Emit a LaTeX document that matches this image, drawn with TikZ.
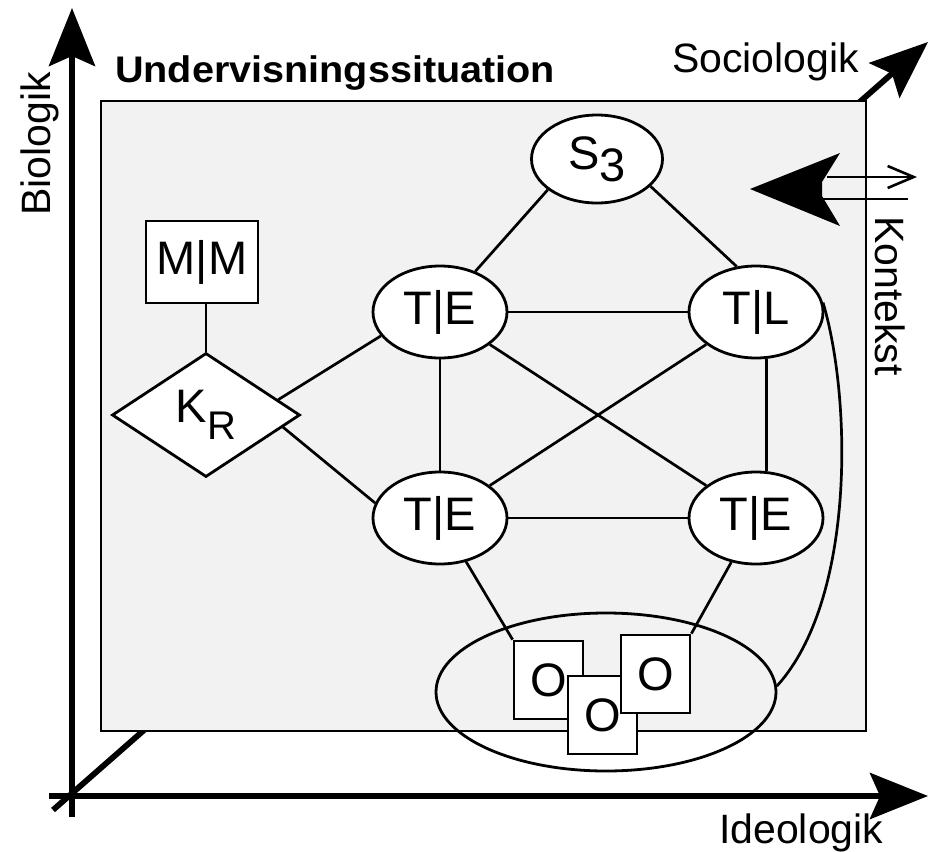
\documentclass[tikz,border=0pt]{standalone}
\usepackage{fontspec}
\setmainfont{Liberation Sans}
\usetikzlibrary{arrows.meta,shapes.geometric}
\definecolor{panel}{HTML}{F2F2F2}
\begin{document}
\begin{tikzpicture}[x=1pt,y=-1pt,
  lbl/.style={font=\fontsize{41}{48}\selectfont, inner sep=0pt},
  nodetxt/.style={font=\fontsize{47}{55}\selectfont},
  ell/.style={ellipse, draw, fill=white, line width=2.8pt, minimum width=134pt, minimum height=92pt, inner sep=0pt, nodetxt},
  obox/.style={rectangle, draw, fill=white, line width=2.8pt, minimum width=69pt, minimum height=78pt, inner sep=0pt, nodetxt},
  conn/.style={line width=2.7pt},
  axisline/.style={line width=5.8pt},
  bighead/.style={-{Stealth[length=58pt,width=46pt,inset=10pt]}}
]
\useasboundingbox (0,0) rectangle (930,852);

% diagonal axis (behind the panel)
\coordinate (d0) at (53,810);
\coordinate (d1) at (928,42);
\draw[axisline, bighead] (d0) -- (d1);

% panel
\draw[fill=panel, line width=2.6pt] (101,101) rectangle (866,731);

% vertical and horizontal axes
\coordinate (v0) at (72,817);
\coordinate (v1) at (72,8);
\coordinate (h0) at (49,796);
\coordinate (h1) at (928,796);
\draw[axisline, bighead] (v0) -- (v1);
\draw[axisline, bighead] (h0) -- (h1);

% labels
\node[anchor=base west, inner sep=0pt, font=\bfseries\fontsize{37}{42}\selectfont] (title) at (115,82) {\scalebox{1.07}[1]{Undervisningssituation}};
\node[lbl, anchor=base west] (soc) at (672,72) {Sociologik};
\node[lbl, anchor=base west] (ideo) at (719,843) {Ideologik};
\node[lbl, anchor=base west, rotate=90] (bio) at (50,216) {Biologik};
\node[lbl, anchor=base west, rotate=-90] (kon) at (875,216) {Kontekst};

% context arrows
\coordinate (ka1) at (827,177);
\coordinate (ka2) at (917,177);
\coordinate (kb1) at (823,199);
\coordinate (kb2) at (908,199);
\draw[line width=2.6pt, -{Straight Barb[length=26pt,width=22pt]}] (ka1) -- (ka2);
\draw[line width=2.6pt] (kb1) -- (kb2);
\fill (750,189) -- (840,153) -- (822,182) -- (822,196) -- (840,226) -- cycle;

% nodes
\node[rectangle, draw, fill=white, line width=2.8pt, minimum width=112pt, minimum height=82pt, inner sep=0pt, nodetxt] (MM) at (202,262) {M|M};
\node[diamond, draw, fill=white, line width=2.8pt, minimum width=188pt, minimum height=124pt, inner sep=0pt, nodetxt] (KR) at (206,415) {K\raisebox{-17pt}{\fontsize{40}{40}\selectfont R}};
\node[ell, minimum width=131pt, minimum height=88pt] (S3) at (597,159) {S\raisebox{-12pt}{3}};
\node[ell] (TEtl) at (440,312) {T|E};
\node[ell] (TL) at (756,312) {T|L};
\node[ell] (TEbl) at (440,518) {T|E};
\node[ell] (TEbr) at (756,518) {T|E};
\node[ellipse, draw, line width=2.8pt, minimum width=340pt, minimum height=158pt, inner sep=0pt] (OE) at (606,692) {};
\node[obox] (b1) at (548.5,680) {O};
\node[obox] (b2) at (602.5,715) {O};
\node[obox] (b3) at (655.5,674) {O};

% connectors
\draw[conn] (KR.north |- MM.south) -- (KR.north);
\draw[conn] (KR.12) -- (TEtl.202);
\draw[conn] (KR.-9) -- (TEbl.167);
\draw[conn] (S3.212) -- (TEtl.49);
\draw[conn] (S3.-27) -- (TL.113);
\draw[conn] (TEtl) -- (TL);
\draw[conn] (TEtl) -- (TEbl);
\draw[conn] (TL.-77) -- (TEbr.77);
\draw[conn] (TEtl) -- (TEbr);
\draw[conn] (TL) -- (TEbl);
\draw[conn] (TEbl) -- (TEbr);
\draw[conn] (TEbl) -- (b1.north west);
\draw[conn] (TEbr) -- (b3.north east);
\draw[conn] (TL.8) .. controls (852,400) and (855,600) .. (OE.2);
\end{tikzpicture}
\end{document}
